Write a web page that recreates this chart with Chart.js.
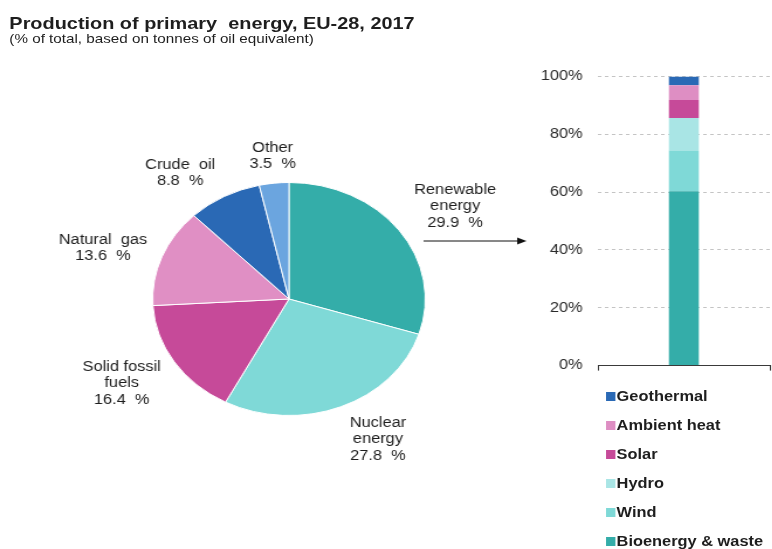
<!DOCTYPE html>
<html>
<head>
<meta charset="utf-8">
<script src="https://cdn.jsdelivr.net/npm/chart.js@4.4.1/dist/chart.umd.min.js"></script>
<style>
  html, body { margin: 0; padding: 0; background: #fff; overflow: hidden; }
  body { font-family: Arial, "Liberation Sans", sans-serif; color: #1e1e1e; }
  /* whole figure is laid out narrow and stretched sideways */
  #page { position: relative; width: 660px; height: 549px; transform: scaleX(1.17); transform-origin: 0 0; }
  #pie { position: absolute; left: 0; top: 0; }
  #bar { position: absolute; left: 440px; top: 55px; }
  .title { position: absolute; left: 8px; top: 15px; font-size: 17px; line-height: 17px; font-weight: bold; white-space: pre; }
  .subtitle { position: absolute; left: 8px; top: 32px; font-size: 13px; line-height: 13px; white-space: pre; }
  #legend { position: absolute; left: 518px; top: 382px; }
  #legend div { height: 29px; line-height: 29px; font-size: 14px; font-weight: bold; white-space: nowrap; }
  #legend span { display: inline-block; width: 8px; height: 9px; margin-right: 1px; vertical-align: 0px; }
</style>
</head>
<body>
<div id="page">
  <div class="title">Production of primary  energy, EU-28, 2017</div>
  <div class="subtitle">(% of total, based on tonnes of oil equivalent)</div>
  <canvas id="pie" width="660" height="549"></canvas>
  <canvas id="bar" width="220" height="332"></canvas>
  <div id="legend"></div>
</div>
<script>
// energy sources, clockwise from the top
const sources = [["Renewable", "energy"], ["Nuclear", "energy"], ["Solid fossil", "fuels"], ["Natural  gas"], ["Crude  oil"], ["Other"]];
const shares = [29.9, 27.8, 16.4, 13.6, 8.8, 3.5];
const sourceColors = ["#34ada9", "#7fd9d7", "#c64a99", "#e08fc4", "#2a69b5", "#6ba5df"];

// breakdown of the renewable slice, bottom to top
const renewables = ["Bioenergy & waste", "Wind", "Hydro", "Solar", "Ambient heat", "Geothermal"];
const renewableShares = [60.3, 14.1, 11.2, 6.2, 5.1, 3.1];
const renewableColors = ["#34ada9", "#7fd9d7", "#a9e5e5", "#c64a99", "#de8ec3", "#2a69b5"];

const percentTicks = [0, 20, 40, 60, 80, 100];

// where each slice label sits (centre x, first line y)
const labelSpots = [[389, 190], [323, 423], [104, 367], [88, 240], [154, 165], [233, 148]];
const lineHeight = 16.5;

const textColor = "#1e1e1e";
const font = "14px Arial, 'Liberation Sans', sans-serif";

const sliceLabels = {
  id: "sliceLabels",
  afterDraw(chart) {
    const c = chart.ctx;
    c.save();
    c.fillStyle = textColor;
    c.font = font;
    c.textAlign = "center";
    c.textBaseline = "middle";
    sources.forEach((lines, i) => {
      const [x, y] = labelSpots[i];
      const rows = [...lines, shares[i].toFixed(1) + "  %"];
      rows.forEach((t, k) => c.fillText(t, x, y + k * lineHeight));
    });
    // arrow from the renewable label to the breakdown bar
    const ax = labelSpots[0][0];
    const ay = labelSpots[0][1] + 51;
    c.strokeStyle = "#111";
    c.lineWidth = 1;
    c.beginPath();
    c.moveTo(ax - 27, ay);
    c.lineTo(ax + 55, ay);
    c.stroke();
    c.beginPath();
    c.moveTo(ax + 61, ay);
    c.lineTo(ax + 53, ay - 3.5);
    c.lineTo(ax + 53, ay + 3.5);
    c.closePath();
    c.fillStyle = "#111";
    c.fill();
    c.restore();
  }
};

new Chart(document.getElementById("pie"), {
  type: "pie",
  data: {
    labels: sources.map((l) => l.join(" ")),
    datasets: [{
      data: shares,
      backgroundColor: sourceColors,
      borderColor: "#fff",
      borderWidth: 1
    }]
  },
  options: {
    responsive: false,
    animation: false,
    layout: { padding: { left: 130, right: 296, top: 182, bottom: 133 } },
    plugins: { legend: { display: false }, tooltip: { enabled: false } }
  },
  plugins: [sliceLabels]
});

const barChart = new Chart(document.getElementById("bar"), {
  type: "bar",
  data: {
    labels: [""],
    datasets: renewables.map((name, i) => ({
      label: name,
      data: [renewableShares[i]],
      backgroundColor: renewableColors[i],
      barPercentage: 0.174,
      categoryPercentage: 1
    }))
  },
  options: {
    responsive: false,
    animation: false,
    layout: { padding: { top: 11, bottom: 8, right: 2, left: 0 } },
    plugins: { legend: { display: false }, tooltip: { enabled: false } },
    scales: {
      x: {
        stacked: true,
        ticks: { display: false },
        // small end marks hanging under the base line
        grid: { display: true, drawOnChartArea: false, drawTicks: true, tickLength: 5, color: "#3a3a3a", offset: true },
        border: { display: true, color: "#3a3a3a", width: 1 },
        afterFit: (s) => { s.height = 0; }
      },
      y: {
        stacked: true,
        min: 0,
        max: 100,
        afterBuildTicks: (s) => { s.ticks = percentTicks.map((v) => ({ value: v })); },
        afterFit: (s) => { s.width = 71; },
        ticks: {
          padding: 13,
          color: "#2a2a2a",
          font: { family: "Arial, 'Liberation Sans', sans-serif", size: 14 },
          callback: (v) => v + "%"
        },
        grid: {
          drawTicks: false,
          color: (ctx) => (ctx.tick && ctx.tick.value === 0 ? "rgba(0,0,0,0)" : "#c4c4c4"),
          lineWidth: 1
        },
        border: { display: false, dash: [3, 3] }
      }
    }
  }
});

// legend listed top-down, matching the stack order
const legend = document.getElementById("legend");
legend.innerHTML = barChart.data.datasets
  .slice()
  .reverse()
  .map((d) => `<div><span style="background:${d.backgroundColor}"></span>${d.label}</div>`)
  .join("");
</script>
</body>
</html>
